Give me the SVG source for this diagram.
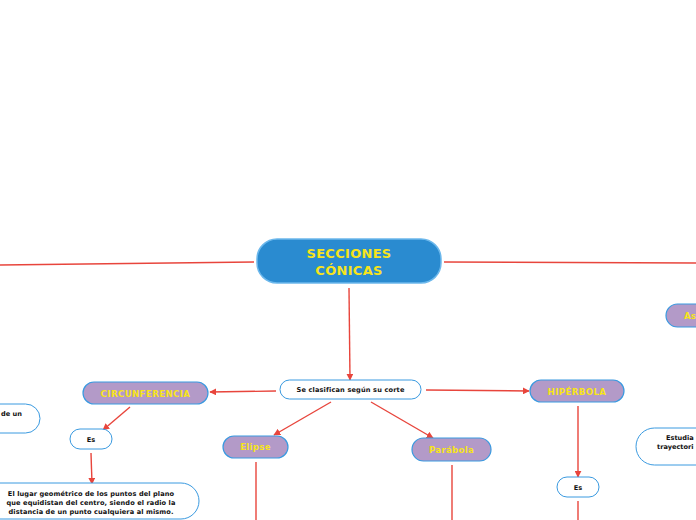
<svg xmlns="http://www.w3.org/2000/svg" width="696" height="520" viewBox="0 0 696 520">
<defs>
<marker id="ah" viewBox="0 0 10 10" refX="9" refY="5" markerWidth="7" markerHeight="7" orient="auto" markerUnits="userSpaceOnUse"><path d="M0,0 L10,5 L0,10 z" fill="#e8453c"/></marker>
<style>
.ln{stroke:#e8453c;stroke-width:1.4;fill:none}
.main{fill:#2a8bd0;stroke:#6cb8ec;stroke-width:1.5}
.pur{fill:#b39ac8;stroke:#3a9ae0;stroke-width:1.2}
.wh{fill:#ffffff;stroke:#3a9ae0;stroke-width:1}
.ty{font-family:"DejaVu Sans",Verdana,sans-serif;font-weight:bold;fill:#f7e41a;text-anchor:middle}
.tb{font-family:"DejaVu Sans",Verdana,sans-serif;font-weight:bold;fill:#111;text-anchor:middle;font-size:6.6px}
</style>
</defs>
<rect width="696" height="520" fill="#ffffff"/>
<g id="connectors">
<line class="ln" x1="254" y1="262" x2="0" y2="265"/>
<line class="ln" x1="444" y1="262" x2="696" y2="263"/>
<line class="ln" x1="349" y1="288" x2="350" y2="380" marker-end="url(#ah)"/>
<line class="ln" x1="276" y1="391" x2="210" y2="392" marker-end="url(#ah)"/>
<line class="ln" x1="426" y1="390" x2="529" y2="391" marker-end="url(#ah)"/>
<line class="ln" x1="331" y1="402" x2="274" y2="435" marker-end="url(#ah)"/>
<line class="ln" x1="371" y1="402" x2="433" y2="438" marker-end="url(#ah)"/>
<line class="ln" x1="130" y1="407" x2="103" y2="430" marker-end="url(#ah)"/>
<line class="ln" x1="91" y1="453" x2="92" y2="484" marker-end="url(#ah)"/>
<line class="ln" x1="256" y1="462" x2="256" y2="520"/>
<line class="ln" x1="452" y1="465" x2="452" y2="520"/>
<line class="ln" x1="578" y1="406" x2="578" y2="477" marker-end="url(#ah)"/>
<line class="ln" x1="578" y1="501" x2="578" y2="520"/>
</g>
<g id="n-main">
<rect class="main" x="257" y="239" width="184" height="44" rx="20"/>
<text class="ty" x="349" y="258" font-size="13" letter-spacing="0.3">SECCIONES</text>
<text class="ty" x="349" y="275" font-size="13" letter-spacing="0.3"> CÓNICAS</text>
</g>
<g id="n-clasif">
<rect class="wh" x="280" y="380" width="141" height="19" rx="9.5"/>
<text class="tb" x="350.5" y="392" letter-spacing="0.15">Se clasifican según su corte</text>
</g>
<g id="n-circ">
<rect class="pur" x="83" y="382" width="125" height="22" rx="11"/>
<text class="ty" x="145.5" y="396.5" font-size="8.6" letter-spacing="0.4">CIRCUNFERENCIA</text>
</g>
<g id="n-es1">
<rect class="wh" x="70" y="429" width="42" height="20" rx="10"/>
<text class="tb" x="91" y="441.5">Es</text>
</g>
<g id="n-def-circ">
<rect class="wh" x="-20" y="483" width="219" height="36" rx="18"/>
<text class="tb" x="91" y="496" letter-spacing="0.1">El lugar geométrico de los puntos del plano</text>
<text class="tb" x="91" y="505" letter-spacing="0.1">que equidistan del centro, siendo el radio la</text>
<text class="tb" x="91" y="514" letter-spacing="0.1">distancia de un punto cualquiera al mismo.</text>
</g>
<g id="n-left">
<rect class="wh" x="-60" y="404" width="100" height="29" rx="14.5"/>
<text class="tb" x="1" y="416" style="text-anchor:start">de un</text>
</g>
<g id="n-elipse">
<rect class="pur" x="223" y="436" width="65" height="22" rx="11"/>
<text class="ty" x="255.5" y="450" font-size="8.6" letter-spacing="0.3">Elipse</text>
</g>
<g id="n-parabola">
<rect class="pur" x="412" y="438" width="79" height="23" rx="11.5"/>
<text class="ty" x="451.5" y="452.5" font-size="8.6" letter-spacing="0.3">Parábola</text>
</g>
<g id="n-hiperbola">
<rect class="pur" x="530" y="380" width="94" height="22" rx="11"/>
<text class="ty" x="577" y="394.5" font-size="8.6" letter-spacing="0.4">HIPÉRBOLA</text>
</g>
<g id="n-es2">
<rect class="wh" x="557" y="477" width="42" height="20" rx="10"/>
<text class="tb" x="578" y="489.5">Es</text>
</g>
<g id="n-as">
<rect class="pur" x="666" y="304" width="80" height="23" rx="11.5"/>
<text class="ty" x="684" y="318.5" font-size="8.6" style="text-anchor:start">As</text>
</g>
<g id="n-estudia">
<rect class="wh" x="636" y="428" width="100" height="37" rx="18.5"/>
<text class="tb" x="666" y="440" style="text-anchor:start">Estudia</text>
<text class="tb" x="657" y="449" style="text-anchor:start">trayectori</text>
</g>
</svg>
